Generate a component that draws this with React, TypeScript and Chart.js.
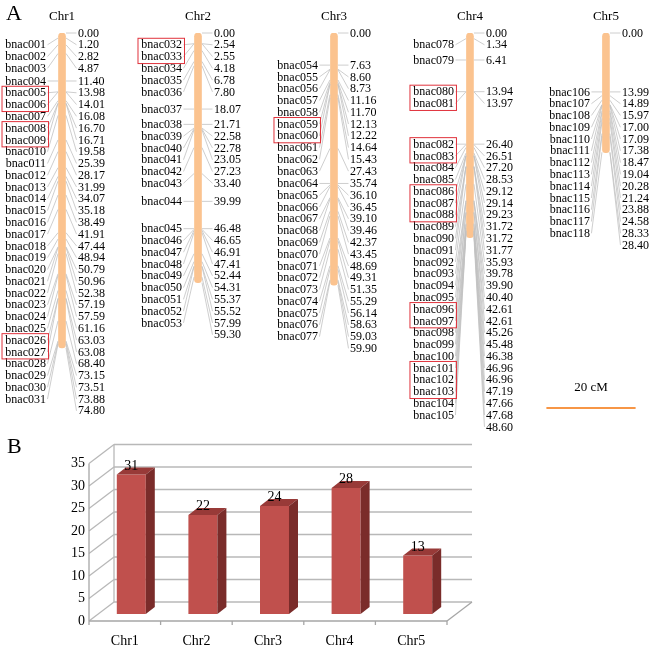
import React, { useEffect, useRef } from "react";
import { Chart, registerables } from "chart.js";
Chart.register(...registerables);

const FONT = '"Liberation Serif", "Times New Roman", serif';

// ---------- Panel A data ----------
const chromosomes = ["Chr1", "Chr2", "Chr3", "Chr4", "Chr5"];
const chrLengths = [74.8, 59.3, 59.9, 48.6, 28.4];

const chr1Genes = ["bnac001","bnac002","bnac003","bnac004","bnac005","bnac006","bnac007","bnac008","bnac009","bnac010","bnac011","bnac012","bnac013","bnac014","bnac015","bnac016","bnac017","bnac018","bnac019","bnac020","bnac021","bnac022","bnac023","bnac024","bnac025","bnac026","bnac027","bnac028","bnac029","bnac030","bnac031"];
const chr1Pos = [1.20,2.82,4.87,11.40,13.98,14.01,16.08,16.70,16.71,19.58,25.39,28.17,31.99,34.07,35.18,38.49,41.91,47.44,48.94,50.79,50.96,52.38,57.19,57.59,61.16,63.03,63.08,68.40,73.15,73.51,73.88];

const chr2Genes = ["bnac032","bnac033","bnac034","bnac035","bnac036","bnac037","bnac038","bnac039","bnac040","bnac041","bnac042","bnac043","bnac044","bnac045","bnac046","bnac047","bnac048","bnac049","bnac050","bnac051","bnac052","bnac053"];
const chr2Pos = [2.54,2.55,4.18,6.78,7.80,18.07,21.71,22.58,22.78,23.05,27.23,33.40,39.99,46.48,46.65,46.91,47.41,52.44,54.31,55.37,55.52,57.99];

const chr3Genes = ["bnac054","bnac055","bnac056","bnac057","bnac058","bnac059","bnac060","bnac061","bnac062","bnac063","bnac064","bnac065","bnac066","bnac067","bnac068","bnac069","bnac070","bnac071","bnac072","bnac073","bnac074","bnac075","bnac076","bnac077"];
const chr3Pos = [7.63,8.60,8.73,11.16,11.70,12.13,12.22,14.64,15.43,27.43,35.74,36.10,36.45,39.10,39.46,42.37,43.45,48.69,49.31,51.35,55.29,56.14,58.63,59.03];

const chr4Genes = ["bnac078","bnac079","bnac080","bnac081","bnac082","bnac083","bnac084","bnac085","bnac086","bnac087","bnac088","bnac089","bnac090","bnac091","bnac092","bnac093","bnac094","bnac095","bnac096","bnac097","bnac098","bnac099","bnac100","bnac101","bnac102","bnac103","bnac104","bnac105"];
const chr4Pos = [1.34,6.41,13.94,13.97,26.40,26.51,27.20,28.53,29.12,29.14,29.23,31.72,31.72,31.77,35.93,39.78,39.90,40.40,42.61,42.61,45.26,45.48,46.38,46.96,46.96,47.19,47.66,47.68];

const chr5Genes = ["bnac106","bnac107","bnac108","bnac109","bnac110","bnac111","bnac112","bnac113","bnac114","bnac115","bnac116","bnac117","bnac118"];
const chr5Pos = [13.99,14.89,15.97,17.00,17.09,17.38,18.47,19.04,20.28,21.24,23.88,24.58,28.33];

const chrGenes = [chr1Genes, chr2Genes, chr3Genes, chr4Genes, chr5Genes];
const chrPos = [chr1Pos, chr2Pos, chr3Pos, chr4Pos, chr5Pos];

const highlightGroups = [
  ["bnac005","bnac006"], ["bnac008","bnac009"], ["bnac026","bnac027"],
  ["bnac032","bnac033"], ["bnac059","bnac060"],
  ["bnac080","bnac081"], ["bnac082","bnac083"], ["bnac086","bnac087","bnac088"],
  ["bnac096","bnac097"], ["bnac101","bnac102","bnac103"],
];
const scaleBarCM = 20;

// ---------- Panel B data ----------
const geneCounts = [31, 22, 24, 28, 13];

const ROW_H = 11.78;

const mapPlugin = {
  id: "mapPlugin",
  afterDatasetsDraw(chart: any) {
    const ctx = chart.ctx;
    const xs = chart.scales.x;
    const ys = chart.scales.y;
    ctx.save();
    ctx.fillStyle = "#000";
    ctx.font = `22px ${FONT}`;
    ctx.textAlign = "left";
    ctx.textBaseline = "alphabetic";
    ctx.fillText("A", 6, 20);

    chromosomes.forEach((name, i) => {
      const cx = xs.getPixelForValue(i);
      ctx.font = `13px ${FONT}`;
      ctx.textAlign = "center";
      ctx.textBaseline = "middle";
      ctx.fillStyle = "#000";
      ctx.fillText(name, cx, 17);

      const marks: any[] = [{ name: null, p: 0 }];
      chrGenes[i].forEach((g, k) => marks.push({ name: g, p: chrPos[i][k] }));
      marks.push({ name: null, p: chrLengths[i] });
      let prev = -Infinity;
      marks.forEach((m) => {
        m.py = ys.getPixelForValue(m.p);
        m.ly = Math.max(m.py, prev + ROW_H);
        prev = m.ly;
      });

      ctx.strokeStyle = "#c2c2c2";
      ctx.lineWidth = 0.8;
      marks.forEach((m) => {
        ctx.beginPath();
        ctx.moveTo(cx + 4, m.py);
        ctx.lineTo(cx + 14.5, m.ly);
        ctx.stroke();
        if (m.name) {
          ctx.beginPath();
          ctx.moveTo(cx - 4, m.py);
          ctx.lineTo(cx - 14.5, m.ly);
          ctx.stroke();
        }
      });

      ctx.font = `12px ${FONT}`;
      ctx.fillStyle = "#000";
      ctx.textBaseline = "middle";
      marks.forEach((m) => {
        ctx.textAlign = "left";
        ctx.fillText(m.p.toFixed(2), cx + 16, m.ly + 0.5);
        if (m.name) {
          ctx.textAlign = "right";
          ctx.fillText(m.name, cx - 16, m.ly + 0.5);
        }
      });

      ctx.strokeStyle = "#e0323c";
      ctx.lineWidth = 1;
      highlightGroups.forEach((grp) => {
        const ms = marks.filter((m) => m.name && grp.includes(m.name));
        if (!ms.length) return;
        const y0 = ms[0].ly - 6.5;
        const y1 = ms[ms.length - 1].ly + 7;
        ctx.strokeRect(cx - 60, y0, 46.5, y1 - y0);
      });
    });

    const len = ys.getPixelForValue(scaleBarCM) - ys.getPixelForValue(0);
    const sx = 591;
    ctx.font = `13px ${FONT}`;
    ctx.textAlign = "center";
    ctx.textBaseline = "middle";
    ctx.fillStyle = "#000";
    ctx.fillText(`${scaleBarCM} cM`, sx, 388);
    ctx.strokeStyle = "#f79646";
    ctx.lineWidth = 2;
    ctx.beginPath();
    ctx.moveTo(sx - len / 2 - 2.5, 408);
    ctx.lineTo(sx + len / 2 + 2.5, 408);
    ctx.stroke();
    ctx.restore();
  },
};

const FDX = -6.5, FDY = 7; // front plane offset from bar plane
const BDX = 18.5, BDY = -12; // back wall offset from bar plane
const DDX = 9, DDY = -7; // bar depth

const wallPlugin = {
  id: "wallPlugin",
  beforeDatasetsDraw(chart: any) {
    const ctx = chart.ctx;
    const ys = chart.scales.y;
    const xs = chart.scales.x;
    const a = chart.chartArea;
    ctx.save();
    ctx.fillStyle = "#000";
    ctx.font = `22px ${FONT}`;
    ctx.textAlign = "left";
    ctx.textBaseline = "alphabetic";
    ctx.fillText("B", 7, 23);

    ctx.strokeStyle = "#b8b8b8";
    ctx.lineWidth = 1.3;
    const line = (x1: number, y1: number, x2: number, y2: number) => {
      ctx.beginPath();
      ctx.moveTo(x1, y1);
      ctx.lineTo(x2, y2);
      ctx.stroke();
    };
    const yTop = ys.getPixelForValue(ys.max);
    const y0 = ys.getPixelForValue(0);
    ys.ticks.forEach((t: any) => {
      const y = ys.getPixelForValue(t.value);
      line(a.left + FDX, y + FDY, a.left + BDX, y + BDY);
      line(a.left + BDX, y + BDY, a.right + BDX, y + BDY);
    });
    line(a.left + BDX, y0 + BDY, a.left + BDX, yTop + BDY);
    ctx.strokeStyle = "#a6a6a6";
    line(a.left + FDX, y0 + FDY + 4, a.left + FDX, yTop + FDY);
    line(a.left + FDX, y0 + FDY, a.right + FDX, y0 + FDY);
    line(a.right + FDX, y0 + FDY, a.right + BDX, y0 + BDY);
    const n = xs.ticks.length;
    const w = (a.right - a.left) / n;
    for (let k = 1; k <= n; k++) {
      const x = a.left + FDX + k * w;
      line(x, y0 + FDY, x, y0 + FDY + 4);
    }
    ctx.restore();
  },
};

const bar3dPlugin = {
  id: "bar3dPlugin",
  afterDatasetsDraw(chart: any) {
    const ctx = chart.ctx;
    const meta = chart.getDatasetMeta(0);
    ctx.save();
    meta.data.forEach((bar: any, i: number) => {
      const { x, y, base, width } = bar.getProps(["x", "y", "base", "width"], true);
      const l = x - width / 2;
      const r = x + width / 2;
      ctx.fillStyle = "#983a38";
      ctx.beginPath();
      ctx.moveTo(l, y);
      ctx.lineTo(r, y);
      ctx.lineTo(r + DDX, y + DDY);
      ctx.lineTo(l + DDX, y + DDY);
      ctx.closePath();
      ctx.fill();
      ctx.fillStyle = "#7a2c2a";
      ctx.beginPath();
      ctx.moveTo(r, y);
      ctx.lineTo(r + DDX, y + DDY);
      ctx.lineTo(r + DDX, base + DDY);
      ctx.lineTo(r, base);
      ctx.closePath();
      ctx.fill();
      ctx.fillStyle = "#000";
      ctx.font = `14px ${FONT}`;
      ctx.textAlign = "center";
      ctx.textBaseline = "alphabetic";
      ctx.fillText(String(geneCounts[i]), x, y - 5);
    });
    ctx.restore();
  },
};

export default function App() {
  const topRef = useRef<HTMLCanvasElement>(null);
  const botRef = useRef<HTMLCanvasElement>(null);

  useEffect(() => {
    const top = new Chart(topRef.current as HTMLCanvasElement, {
      type: "bar",
      data: {
        datasets: [
          {
            data: chrLengths.map((L, i) => ({ x: i, y: [0, L] })) as any,
            backgroundColor: "#fbc38f",
            barThickness: 7,
            borderRadius: 4,
            borderSkipped: false,
          },
        ],
      },
      options: {
        responsive: false,
        animation: false,
        events: [],
        layout: { padding: { top: 33, bottom: 28.1, left: 0, right: 0 } },
        scales: {
          x: { type: "linear", min: -0.456, max: 4.346, offset: false, display: false },
          y: { type: "linear", min: 0, max: 90, reverse: true, display: false },
        },
        plugins: { legend: { display: false }, tooltip: { enabled: false } },
      },
      plugins: [mapPlugin],
    });

    const bot = new Chart(botRef.current as HTMLCanvasElement, {
      type: "bar",
      data: {
        labels: chromosomes,
        datasets: [
          {
            data: geneCounts,
            backgroundColor: "#c0504d",
            barPercentage: 0.405,
            categoryPercentage: 1,
          },
        ],
      },
      options: {
        responsive: false,
        animation: false,
        events: [],
        layout: { padding: { top: 26.5, right: 199.5, left: 0, bottom: 0 } },
        scales: {
          x: {
            grid: { display: false, drawTicks: false },
            border: { display: false },
            ticks: { padding: 19.2, labelOffset: -6.5, color: "#000", font: { family: FONT, size: 14 } },
            afterFit: (s: any) => { s.height = 36; },
          },
          y: {
            min: 0,
            max: 35,
            grid: { display: false, drawTicks: false },
            border: { display: false },
            ticks: { stepSize: 5, padding: 10.5, labelOffset: 7, color: "#000", font: { family: FONT, size: 14 } },
            afterFit: (s: any) => { s.width = 95.5; },
          },
        },
        plugins: { legend: { display: false }, tooltip: { enabled: false } },
      },
      plugins: [wallPlugin, bar3dPlugin],
    });

    return () => {
      top.destroy();
      bot.destroy();
    };
  }, []);

  return (
    <div style={{ position: "absolute", left: 0, top: 0, width: 653, height: 650, background: "#fff" }}>
      <canvas ref={topRef} width={653} height={440} style={{ position: "absolute", left: 0, top: 0 }} />
      <canvas ref={botRef} width={653} height={220} style={{ position: "absolute", left: 0, top: 430 }} />
    </div>
  );
}
